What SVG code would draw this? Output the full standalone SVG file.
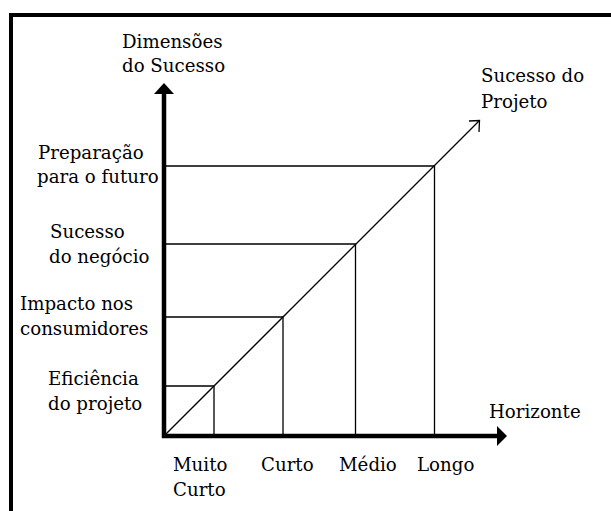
<svg xmlns="http://www.w3.org/2000/svg" width="611" height="511" viewBox="0 0 611 511">
<style>
text{font-family:"DejaVu Serif",serif;font-size:18.2px;fill:#000}
.thin{stroke:#000;stroke-width:1.3;fill:none}
.axis{stroke:#000;stroke-width:4.5;fill:none}
</style>
<rect width="611" height="511" fill="#fff"/>
<g id="frame">
<rect x="9" y="13" width="602" height="4" fill="#000"/>
<rect x="9" y="13" width="4" height="498" fill="#000"/>
</g>
<g id="connectors">
<line class="axis" x1="164" y1="438" x2="164" y2="92"/>
<polygon points="154,94 174,94 164,83" fill="#000"/>
<line class="axis" x1="162" y1="436" x2="498" y2="436"/>
<polygon points="497,426 497,446 507,436" fill="#000"/>
<line class="thin" x1="165" y1="435" x2="479" y2="121"/>
<polyline class="thin" points="469,121 479.5,120.5 479,132"/>
<polyline class="thin" points="164,386 214,386 214,436"/>
<polyline class="thin" points="164,317 283,317 283,436"/>
<polyline class="thin" points="164,244 355.5,244 355.5,436"/>
<polyline class="thin" points="164,166 434.5,166 434.5,436"/>
</g>
<g id="y-axis-label"><text x="122" y="48">Dimensões</text><text x="122" y="72">do Sucesso</text></g>
<g id="diag-label"><text x="481" y="82">Sucesso do</text><text x="481" y="108">Projeto</text></g>
<g id="lvl4"><text x="38" y="159">Preparação</text><text x="37" y="183">para o futuro</text></g>
<g id="lvl3"><text x="50" y="238">Sucesso</text><text x="49" y="263">do negócio</text></g>
<g id="lvl2"><text x="20" y="310">Impacto nos</text><text x="20" y="335">consumidores</text></g>
<g id="lvl1"><text x="48" y="385">Eficiência</text><text x="48" y="410">do projeto</text></g>
<g id="x-axis-label"><text x="489" y="418">Horizonte</text></g>
<g id="h1"><text x="173" y="471">Muito</text><text x="173" y="496">Curto</text></g>
<g id="h2"><text x="261" y="471">Curto</text></g>
<g id="h3"><text x="339" y="471">Médio</text></g>
<g id="h4"><text x="417" y="471">Longo</text></g>
</svg>
